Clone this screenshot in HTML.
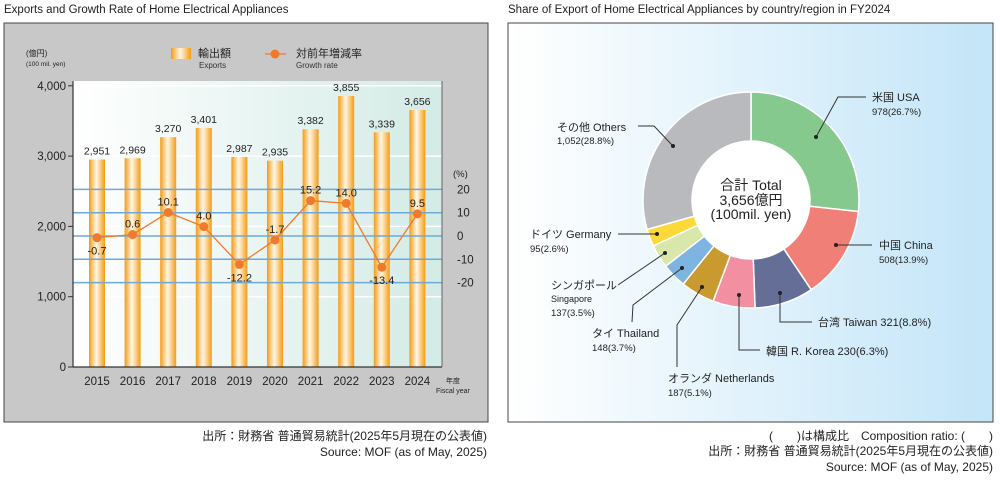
<!DOCTYPE html>
<html><head><meta charset="utf-8"><style>
body{margin:0;width:1000px;height:479px;background:#fff;overflow:hidden;font-family:"Liberation Sans","Noto Sans CJK JP",sans-serif}
svg text{font-family:"Liberation Sans","Noto Sans CJK JP",sans-serif}
</style></head><body>
<svg id="s" width="1000" height="479" viewBox="0 0 1000 479" xmlns="http://www.w3.org/2000/svg">
<defs>
<linearGradient id="pg" x1="0" x2="1" y1="0" y2="0"><stop offset="0" stop-color="#ffffff"/><stop offset="1" stop-color="#d3ebe6"/></linearGradient>
<linearGradient id="bg" x1="0" x2="1" y1="0" y2="0"><stop offset="0" stop-color="#f59a10"/><stop offset="0.45" stop-color="#fff6e6"/><stop offset="0.6" stop-color="#fde0b0"/><stop offset="1" stop-color="#f59a10"/></linearGradient>
<linearGradient id="rg" x1="0" x2="1" y1="0" y2="0"><stop offset="0" stop-color="#ffffff"/><stop offset="1" stop-color="#c3e5f8"/></linearGradient>
</defs>
<text x="4" y="13" font-size="11.5" fill="#222">Exports and Growth Rate of Home Electrical Appliances</text>
<text x="508" y="13" font-size="11.5" fill="#222">Share of Export of Home Electrical Appliances by country/region in FY2024</text>
<rect x="4" y="23" width="484" height="399" fill="#c8c8c8" stroke="#444" stroke-width="1"/>
<rect x="73" y="81" width="369" height="286" fill="url(#pg)"/>
<g id="left"></g>
<rect x="508" y="23" width="485" height="399" fill="url(#rg)" stroke="#444" stroke-width="1"/>
<g id="pie"></g>
<g font-size="12" fill="#222" text-anchor="end">
<text x="487" y="440">出所：財務省 普通貿易統計(2025年5月現在の公表値)</text>
<text x="487" y="456">Source: MOF (as of May, 2025)</text>
<text x="993" y="440">(　　)は構成比　Composition ratio: (　　)</text>
<text x="993" y="455">出所：財務省 普通貿易統計(2025年5月現在の公表値)</text>
<text x="993" y="471">Source: MOF (as of May, 2025)</text>
</g>
</svg>
<script>
var NS="http://www.w3.org/2000/svg";
function el(p,t,a,txt){var e=document.createElementNS(NS,t);for(var k in a)e.setAttribute(k,a[k]);if(txt!=null)e.textContent=txt;p.appendChild(e);return e;}
var L=document.getElementById('left');
function yv(v){return 367-v*0.0703;}
function yg(v){return 236-v*2.33;}
[1000,2000,3000,4000].forEach(function(v){el(L,'line',{x1:73,x2:442,y1:yv(v),y2:yv(v),stroke:'#fff','stroke-width':1.5});});
var vals=[2951,2969,3270,3401,2987,2935,3382,3855,3339,3656];
var g=[-0.7,0.6,10.1,4.0,-12.2,-1.7,15.2,14.0,-13.4,9.5];
var yrs=[2015,2016,2017,2018,2019,2020,2021,2022,2023,2024];
vals.forEach(function(v,i){var cx=97+i*35.6;
el(L,'rect',{x:cx-8,y:yv(v),width:16,height:367-yv(v),fill:'url(#bg)'});
el(L,'text',{x:cx,y:yv(v)-5,'font-size':10.5,'text-anchor':'middle',fill:'#222'},v.toLocaleString('en-US'));
el(L,'text',{x:cx,y:385,'font-size':11.5,'text-anchor':'middle',fill:'#222'},yrs[i]);
});
[20,10,0,-10,-20].forEach(function(v){el(L,'line',{x1:73,x2:442,y1:yg(v),y2:yg(v),stroke:'#6fa9d9','stroke-width':1.5});
el(L,'text',{x:457,y:yg(v)+4,'font-size':11.5,'text-anchor':'start',fill:'#222'},v);});
var pts=g.map(function(v,i){return (97+i*35.6)+','+yg(v)}).join(' ');
el(L,'polyline',{points:pts,fill:'none',stroke:'#f07a2c','stroke-width':1.3});
g.forEach(function(v,i){var cx=97+i*35.6,cy=yg(v);el(L,'circle',{cx:cx,cy:cy,r:4.5,fill:'#f07a2c'});
var below=(i==0||i==4||i==8);el(L,'text',{x:cx,y:below?cy+17:cy-7,'font-size':11,'text-anchor':'middle',fill:'#222'},v.toFixed(1));});
el(L,'line',{x1:73,x2:73,y1:81,y2:367,stroke:'#333','stroke-width':1.2});
el(L,'line',{x1:73,x2:442,y1:367,y2:367,stroke:'#333','stroke-width':1.2});
el(L,'line',{x1:442,x2:442,y1:81,y2:367,stroke:'#666','stroke-width':1});
[0,1000,2000,3000,4000].forEach(function(v){el(L,'line',{x1:68,x2:73,y1:yv(v),y2:yv(v),stroke:'#333'});
el(L,'text',{x:66,y:yv(v)+4,'font-size':11.5,'text-anchor':'end',fill:'#222'},v.toLocaleString('en-US'));});
el(L,'text',{x:26,y:56,'font-size':8,fill:'#222'},'(億円)');
el(L,'text',{x:26,y:66,'font-size':6.5,fill:'#222'},'(100 mil. yen)');
el(L,'rect',{x:171,y:48,width:20,height:11,fill:'url(#bg)'});
el(L,'text',{x:198,y:57,'font-size':11,fill:'#222'},'輸出額');
el(L,'text',{x:199,y:68,'font-size':8,fill:'#333'},'Exports');
el(L,'line',{x1:265,x2:286,y1:54,y2:54,stroke:'#f07a2c','stroke-width':1.3});
el(L,'circle',{cx:275,cy:54,r:4.5,fill:'#f07a2c'});
el(L,'text',{x:296,y:57,'font-size':11,fill:'#222'},'対前年増減率');
el(L,'text',{x:296,y:68,'font-size':8,fill:'#333'},'Growth rate');
el(L,'text',{x:453,y:177,'font-size':9.5,fill:'#222'},'(%)');
el(L,'text',{x:446,y:383,'font-size':7,fill:'#222'},'年度');
el(L,'text',{x:436,y:393,'font-size':7,fill:'#222'},'Fiscal year');
// pie
var P=document.getElementById('pie');var cx=751,cy=200,R=108,r=59;
var d=[[26.7,'#85c98f'],[13.9,'#f07f78'],[8.8,'#646e96'],[6.3,'#f28fa0'],[5.1,'#c99a30'],[3.7,'#7db4e0'],[3.5,'#d9e7aa'],[2.6,'#fcd838'],[29.4,'#b9babd']];
var a=0;d.forEach(function(s){var a0=a/100*2*Math.PI,a1=(a+s[0])/100*2*Math.PI;a+=s[0];
function p(rr,t){return (cx+rr*Math.sin(t)).toFixed(2)+','+(cy-rr*Math.cos(t)).toFixed(2);}
var lg=(a1-a0)>Math.PI?1:0;
el(P,'path',{d:'M'+p(R,a0)+' A'+R+','+R+' 0 '+lg+' 1 '+p(R,a1)+' L'+p(r,a1)+' A'+r+','+r+' 0 '+lg+' 0 '+p(r,a0)+'Z',fill:s[1],stroke:'#fff','stroke-width':1.5});});
el(P,'circle',{cx:cx,cy:cy,r:r,fill:'#fff'});
[['合計 Total',190],['3,656億円',205],['(100mil. yen)',219]].forEach(function(t){el(P,'text',{x:cx,y:t[1],'font-size':14,'text-anchor':'middle',fill:'#222'},t[0]);});
var lines=[[[816,137],[838,97],[866,97]],[[673,146],[654,126],[638,126]],[[657,234],[618,234]],[[665,253],[618,285]],[[682,268],[633,305],[632,322]],[[702,287],[677,325],[677,367]],[[739,295],[739,350],[760,350]],[[780,293],[780,322],[812,322]],[[836,245],[872,245]]];
lines.forEach(function(l){el(P,'polyline',{points:l.map(function(q){return q.join(',')}).join(' '),fill:'none',stroke:'#333','stroke-width':1});el(P,'circle',{cx:l[0][0],cy:l[0][1],r:2,fill:'#222'});});
var T=[['米国 USA',872,101,11],['978(26.7%)',872,115,9.5],['その他 Others',557,131,11],['1,052(28.8%)',557,144,9.5],['ドイツ Germany',530,238,11],['95(2.6%)',530,252,9.5],['シンガポール',551,289,11],['Singapore',551,302,9],['137(3.5%)',551,316,9.5],['タイ Thailand',592,337,11],['148(3.7%)',592,351,9.5],['オランダ Netherlands',668,382,11],['187(5.1%)',668,396,9.5],['韓国 R. Korea 230(6.3%)',766,355,11],['台湾 Taiwan 321(8.8%)',818,326,11],['中国 China',879,249,11],['508(13.9%)',879,263,9.5]];
T.forEach(function(t){el(P,'text',{x:t[1],y:t[2],'font-size':t[3],fill:'#222'},t[0]);});
</script>
</body></html>
